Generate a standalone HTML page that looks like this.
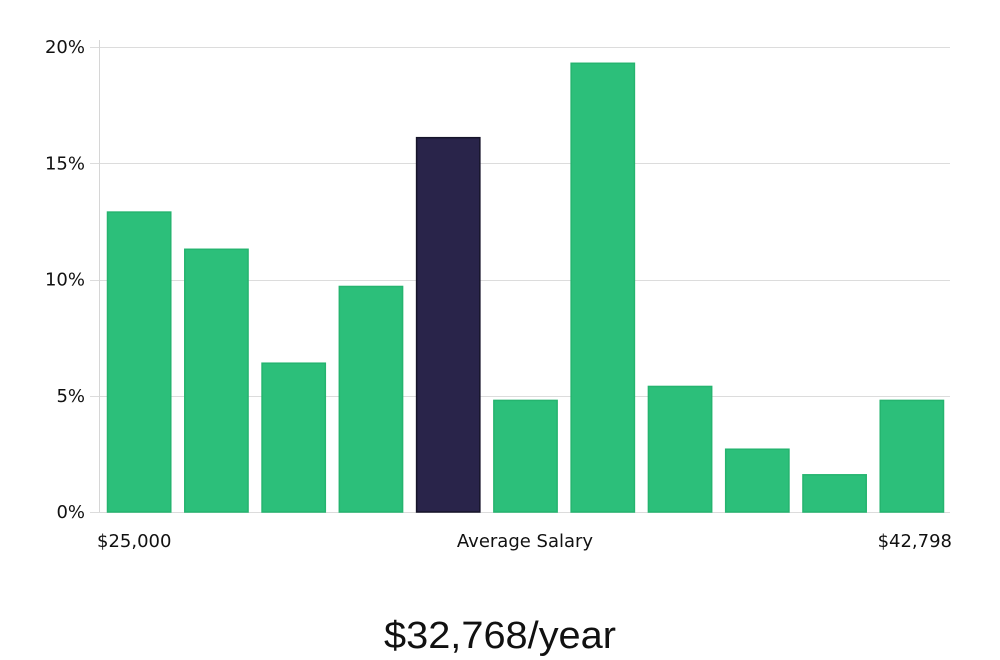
<!DOCTYPE html>
<html><head><meta charset="utf-8"><style>
html,body{margin:0;padding:0;background:#fff;width:1000px;height:660px;overflow:hidden}
svg text{font-family:"DejaVu Sans","Liberation Sans",sans-serif}
</style></head><body>
<svg id="chart" width="1000" height="660" viewBox="0 0 1000 660" xmlns="http://www.w3.org/2000/svg">
<g id="grid"></g>
<line x1="99.5" y1="40" x2="99.5" y2="512" stroke="#d6d6d6" stroke-width="1"/>
<g id="yticks"></g>
<g id="bars"></g>
<text x="97" y="547" font-size="18" fill="#111">$25,000</text>
<text x="525" y="547" font-size="18" fill="#111" text-anchor="middle">Average Salary</text>
<text x="952" y="547" font-size="18" fill="#111" text-anchor="end">$42,798</text>
<text x="500" y="648" font-size="38" fill="#111" text-anchor="middle" style="font-family:'Liberation Sans Narrow','Liberation Sans',sans-serif" textLength="232" lengthAdjust="spacingAndGlyphs">$32,768/year</text>
</svg>
<script>
const values=[12.9,11.3,6.4,9.7,16.1,4.8,19.3,5.4,2.7,1.6,4.8];
const highlight=[false,false,false,false,true,false,false,false,false,false,false];
const tickValues=[0,5,10,15,20];
const tickLabels=["0%","5%","10%","15%","20%"];
const NS="http://www.w3.org/2000/svg";
const x0=100,x1=950,y0=512,yTop=47,maxV=20;
const y=v=>y0-(v/maxV)*(y0-yTop);
const slot=(x1-x0)/values.length;
const xs=i=>x0+i*slot;
const grid=document.getElementById('grid'),yt=document.getElementById('yticks'),bars=document.getElementById('bars');
tickValues.forEach((t,i)=>{
  const l=document.createElementNS(NS,'line');
  
  
  l.setAttribute('x1',x0-10);l.setAttribute('x2',x1);
  l.setAttribute('y1',Math.round(y(t))+0.5);l.setAttribute('y2',Math.round(y(t))+0.5);
  l.setAttribute('stroke','#dcdcdc');l.setAttribute('stroke-width','1');
  grid.appendChild(l);
  const tx=document.createElementNS(NS,'text');
  
  
  tx.setAttribute('x',85);tx.setAttribute('y',y(t)+6);
  tx.setAttribute('text-anchor','end');tx.setAttribute('font-size','18');tx.setAttribute('fill','#111');
  tx.textContent=tickLabels[i];
  yt.appendChild(tx);
});
values.forEach((v,i)=>{
  const r=document.createElementNS(NS,'rect');
  
  
  const w=slot-14;
  r.setAttribute('x',xs(i)+7.5);r.setAttribute('y',y(v));
  r.setAttribute('width',w);r.setAttribute('height',y0-y(v));
  r.setAttribute('fill',highlight[i]?'#29244a':'#2cbf7a');
  r.setAttribute('stroke',highlight[i]?'#16142a':'#25b46f');
  r.setAttribute('stroke-width','1.5');
  bars.appendChild(r);
});
</script>
</body></html>
